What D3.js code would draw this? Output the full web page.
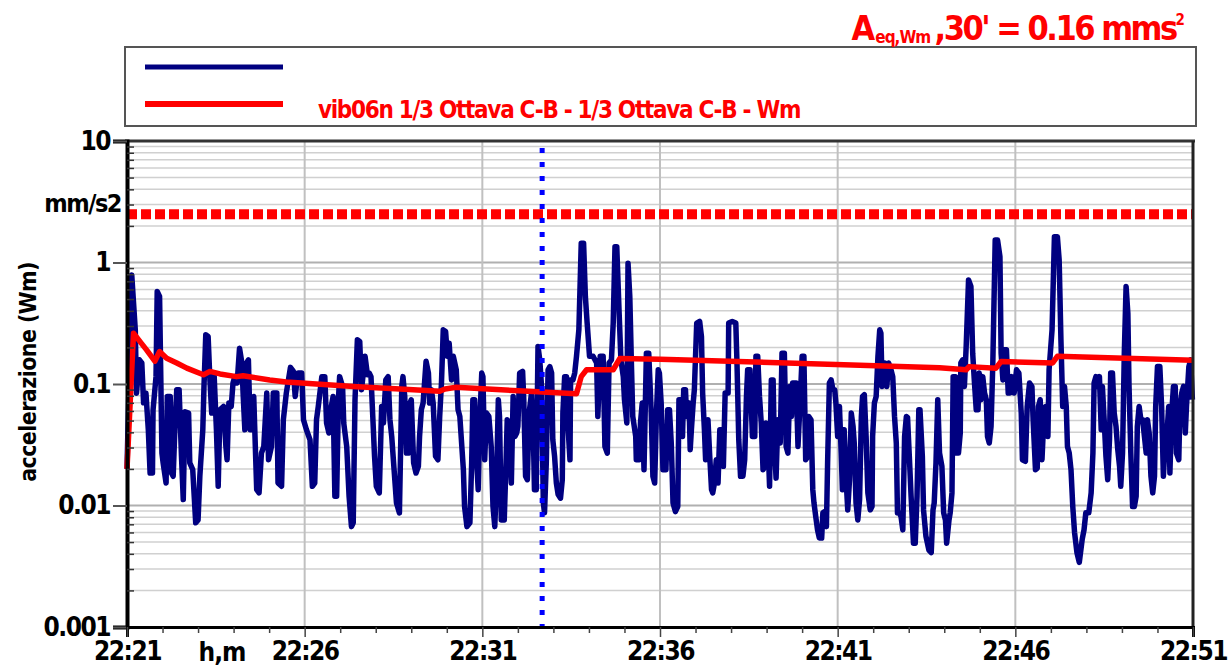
<!DOCTYPE html>
<html><head><meta charset="utf-8">
<script src="https://cdn.jsdelivr.net/npm/d3@7"></script>
<style>
body{margin:0;background:#fff}
svg{display:block}
text{font-family:"Liberation Sans Narrow","DejaVu Sans Condensed","Open Sans",sans-serif}
</style>
</head><body>
<svg id="chart" width="1228" height="670"></svg>
<script>
// ---- data ----
const startLabel = "22:21";
const durationSec = 1800;
const xTickSeconds = [0, 300, 600, 900, 1200, 1500, 1800];
const xTickLabels = ["22:21", "22:26", "22:31", "22:36", "22:41", "22:46", "22:51"];
const yTickValues = [10, 1, 0.1, 0.01, 0.001];
const yTickLabels = ["10", "1", "0.1", "0.01", "0.001"];
const seriesNames = ["", "vib06n  1/3 Ottava C-B - 1/3 Ottava C-B - Wm"];
const limitValue = 2.5;
const markerSecond = 701;
const aeqValue = "0.16";

// blue: acceleration (Wm), [seconds after 22:21, mm/s2]
const accelSamples = [
[0,.020],[4,.131],[8,.79],[14,.279],[16,.084],[21,.158],[25,.149],[28,.070],[32,.084],[36,.042],[39,.0185],[43,.0185],[44,.061],[49,.115],[51,.577],[55,.525],[59,.027],[61,.0224],[66,.0153],[68,.079],[73,.079],[75,.0185],[78,.0174],[81,.0448],[84,.0897],[88,.0897],[92,.0254],[95,.0112],[98,.059],[104,.0576],[106,.0224],[111,.0197],[116,.0072],[120,.0076],[123,.0174],[128,.042],[130,.0955],[133,.254],[137,.246],[140,.108],[143,.0576],[147,.123],[151,.042],[154,.0144],[157,.0614],[163,.0654],[167,.0306],[169,.0238],[172,.0697],[176,.0654],[179,.102],[182,.115],[186,.102],[190,.197],[194,.149],[196,.0842],[199,.042],[202,.149],[205,.158],[208,.042],[210,.042],[214,.079],[219,.0135],[223,.0127],[227,.027],[231,.0306],[236,.0842],[239,.0238],[244,.0306],[247,.0842],[253,.0842],[255,.0153],[261,.0144],[264,.0508],[269,.0842],[276,.137],[281,.127],[284,.079],[286,.0955],[289,.123],[295,.123],[298,.0508],[303,.042],[309,.0348],[313,.0144],[317,.0153],[320,.0508],[323,.0654],[329,.115],[334,.115],[337,.0477],[341,.0395],[345,.0654],[348,.079],[351,.0119],[354,.0119],[357,.0742],[359,.115],[364,.0955],[366,.0477],[371,.0306],[375,.0119],[379,.0067],[382,.0072],[385,.0742],[389,.231],[393,.224],[396,.0897],[399,.123],[402,.169],[406,.119],[409,.123],[412,.115],[415,.0541],[418,.0254],[421,.0144],[426,.0127],[430,.0654],[433,.0477],[437,.108],[441,.115],[444,.0508],[447,.037],[451,.0197],[455,.0105],[460,.0087],
[464,.0955],[466,.115],[469,.079],[472,.027],[475,.027],[478,.0697],[480,.0742],[484,.0224],[488,.0185],[492,.021],[494,.037],[497,.0614],[500,.0697],[505,.154],[509,.123],[511,.0697],[514,.0897],[517,.0697],[521,.0254],[525,.0238],[528,.0541],[531,.102],[534,.279],[538,.27],[541,.169],[544,.217],[548,.108],[551,.169],[556,.131],[559,.0614],[562,.0541],[568,.0197],[570,.0098],[574,.0067],[579,.0072],[582,.0224],[584,.0742],[587,.0742],[590,.0254],[593,.0135],[596,.0541],[599,.123],[601,.115],[604,.0238],[607,.0576],[611,.0541],[615,.0306],[618,.0098],[621,.0067],[624,.0163],[627,.0742],[629,.0541],[632,.0076],[637,.0076],[640,.0224],[642,.0508],[645,.0477],[649,.0153],[652,.079],[655,.037],[658,.0395],[660,.0448],[663,.123],[668,.127],[670,.0742],[673,.0174],[676,.0163],[679,.0576],[683,.0842],[686,.042],[688,.0135],[691,.0135],[694,.204],[697,.158],[700,.0955],[703,.0105],[705,.0087],[708,.0224],[711,.131],[714,.139],[717,.123],[719,.0348],[722,.0254],[725,.0153],[728,.0123],[732,.0115],[735,.0163],[736,.0576],[739,.115],[742,.115],[745,.042],[748,.0238],[749,.108],[753,.108],[756,.123],[759,.169],[763,.279],[767,1.44],[771,1.44],[774,.525],[777,.317],[781,.169],[787,.169],[793,.149],[795,.0541],[799,.169],[804,.169],[807,.0306],[811,.027],[814,.149],[818,.158],[821,.317],[824,1.35],[827,1.35],[831,.383],[834,.158],[838,.115],[840,.0742],[844,.0477],[846,.986],[849,.525],[852,.131],[854,.0541],[859,.037],[860,.0238],[865,.0238],[867,.0477],[870,.0697],[873,.0197],[877,.179],[881,.179],[885,.0614],[888,.0174],[891,.0153],[894,.0576],[897,.131],[899,.123],[902,.0697],[905,.0197],[910,.0197],[913,.0614],
[916,.0614],[919,.0327],[922,.0105],[926,.0089],[930,.0098],[932,.0742],[936,.0742],[938,.037],[940,.0897],[943,.0897],[945,.0541],[949,.0697],[951,.0288],[953,.042],[956,.0697],[958,.0897],[962,.317],[967,.327],[970,.246],[972,.0842],[975,.042],[977,.0238],[981,.0508],[984,.0254],[987,.0135],[989,.0127],[992,.0153],[995,.0238],[998,.0153],[1001,.042],[1005,.042],[1007,.021],[1010,.0842],[1015,.0842],[1016,.317],[1022,.327],[1028,.317],[1030,.149],[1033,.0348],[1036,.0174],[1040,.0174],[1043,.0238],[1046,.079],[1048,.131],[1052,.131],[1056,.037],[1060,.037],[1062,.169],[1065,.169],[1068,.079],[1071,.0477],[1074,.0197],[1077,.021],[1079,.0477],[1082,.037],[1085,.0144],[1088,.108],[1091,.108],[1093,.0327],[1096,.0168],[1099,.0508],[1103,.0327],[1106,.179],[1110,.179],[1113,.0306],[1116,.027],[1119,.0955],[1122,.0541],[1124,.102],[1130,.102],[1133,.0306],[1137,.079],[1140,.169],[1143,.169],[1146,.0238],[1148,.0246],[1151,.0541],[1155,.0508],[1158,.0135],[1160,.0105],[1163,.0081],[1166,.0063],[1169,.0054],[1173,.0054],[1175,.0087],[1178,.0089],[1181,.0067],[1183,.0224],[1186,.102],[1189,.108],[1192,.0897],[1195,.0897],[1197,.0697],[1200,.037],[1203,.0654],[1206,.027],[1208,.0135],[1210,.042],[1211,.042],[1214,.0174],[1217,.0092],[1220,.0163],[1223,.0576],[1226,.0448],[1228,.0327],[1231,.0105],[1234,.0076],[1237,.0112],[1240,.0541],[1242,.079],[1245,.0816],[1248,.037],[1251,.0127],[1255,.0092],[1258,.0098],[1259,.037],[1262,.0697],[1265,.079],[1268,.169],[1271,.279],[1273,.262],[1275,.0955],[1277,.149],[1280,.149],[1283,.0955],[1286,.149],[1290,.131],[1293,.115],[1296,.0541],[1299,.0327],[1301,.0087],[1304,.0087],[1307,.0081],[1310,.0063],[1313,.037],[1316,.0541],[1318,.053],[1321,.0254],[1324,.0119],[1328,.0049],[1331,.0049],[1334,.0119],[1337,.0614],[1339,.0614],[1343,.0254],[1345,.0092],[1349,.0056],[1354,.0043],[1358,.0041],[1361,.0092],[1363,.0105],[1366,.0224],[1369,.0742],
[1372,.027],[1376,.021],[1379,.0087],[1382,.0076],[1384,.0049],[1388,.0076],[1390,.0087],[1393,.0127],[1395,.115],[1399,.115],[1401,.027],[1404,.027],[1407,.0395],[1408,.149],[1411,.158],[1414,.0955],[1417,.204],[1421,.719],[1425,.634],[1428,.179],[1431,.102],[1434,.0614],[1437,.0614],[1439,.123],[1442,.0742],[1445,.115],[1448,.0842],[1451,.0742],[1453,.037],[1456,.0327],[1459,.0448],[1462,.149],[1466,1.53],[1470,1.53],[1474,1.12],[1476,.179],[1479,.108],[1481,.191],[1485,.191],[1488,.0842],[1491,.0842],[1494,.115],[1498,.0842],[1502,.131],[1506,.123],[1510,.0576],[1512,.0238],[1517,.0231],[1520,.0654],[1524,.102],[1528,.0955],[1530,.0508],[1534,.0197],[1537,.0203],[1539,.0654],[1542,.0742],[1545,.0238],[1547,.0395],[1551,.0654],[1555,.037],[1557,.131],[1562,.279],[1566,1.63],[1571,1.63],[1574,1.05],[1577,.231],[1580,.0654],[1583,.0955],[1586,.0654],[1588,.0306],[1591,.027],[1594,.0197],[1597,.0098],[1600,.006],[1604,.0041],[1608,.0034],[1613,.0053],[1616,.0063],[1619,.0087],[1624,.0087],[1628,.0127],[1631,.027],[1633,.102],[1636,.115],[1639,.0955],[1642,.115],[1645,.042],[1647,.0955],[1650,.0508],[1653,.0254],[1656,.0163],[1659,.0348],[1661,.123],[1664,.123],[1667,.0576],[1670,.0448],[1673,.0288],[1676,.021],[1678,.0144],[1681,.027],[1684,.179],[1687,.634],[1690,.383],[1692,.0955],[1695,.027],[1698,.0098],[1701,.0098],[1704,.0119],[1706,.0448],[1709,.0654],[1712,.0508],[1715,.0508],[1718,.037],[1721,.027],[1723,.0508],[1726,.0395],[1729,.0174],[1732,.0127],[1735,.0174],[1737,.0654],[1740,.139],[1744,.139],[1747,.0654],[1750,.0174],[1753,.0327],[1755,.0327],[1759,.0654],[1761,.0185],[1764,.0576],[1767,.0955],[1770,.0955],[1772,.027],[1776,.0238],[1778,.0654],[1781,.0842],[1784,.0955],[1787,.0395],[1789,.0654],[1793,.139],[1796,.158],[1799,.0742]
];

// red: running equivalent level, [seconds after 22:21, mm/s2]
const aeqSamples = [
[0,.020],[11,.262],[22,.223],[33,.191],[47,.154],[55,.185],[67,.163],[84,.149],[101,.135],[129,.119],[140,.127],[157,.121],[185,.115],[196,.117],[241,.108],[269,.104],[326,.0995],[382,.0955],[461,.091],[528,.087],[537,.091],[556,.094],[669,.0875],[759,.083],[767,.115],[776,.131],[821,.131],[832,.162],[900,.16],[1197,.145],[1372,.136],[1417,.131],[1422,.139],[1467,.135],[1476,.153],[1563,.149],[1571,.169],[1800,.157]
];

// ---- chart ----
const svg = d3.select("#chart");
const L = 127, R = 1193, T = 141, B = 627;
const x = d3.scaleLinear().domain([0, durationSec]).range([L, R]);
const y = d3.scaleLog().domain([0.001, 10]).range([B, T]);

// minor log values
const minorVals = [];
[0.001, 0.01, 0.1, 1].forEach(d => { for (let k = 2; k <= 9; k++) minorVals.push(+(d * k).toPrecision(3)); });

// grid
const grid = svg.append("g");
grid.selectAll("line.minor").data(minorVals).join("line")
  .attr("x1", L).attr("x2", R).attr("y1", d => y(d)).attr("y2", d => y(d))
  .attr("stroke", "#d0d0d0").attr("stroke-width", 1.5);
grid.selectAll("line.major").data(yTickValues).join("line")
  .attr("x1", L).attr("x2", R).attr("y1", d => y(d)).attr("y2", d => y(d))
  .attr("stroke", "#b0b0b0").attr("stroke-width", 2);
grid.selectAll("line.v").data(xTickSeconds.slice(1, -1)).join("line")
  .attr("x1", d => x(d)).attr("x2", d => x(d)).attr("y1", T).attr("y2", B)
  .attr("stroke", "#c0c0c0").attr("stroke-width", 2);

// series
const line = d3.line().x(d => x(d[0])).y(d => y(d[1]));
svg.append("path").datum(accelSamples).attr("d", line)
  .attr("fill", "none").attr("stroke", "#000080").attr("stroke-width", 5.5)
  .attr("stroke-linejoin", "round");
svg.append("path").datum(aeqSamples).attr("d", line)
  .attr("fill", "none").attr("stroke", "#ff0000").attr("stroke-width", 5.5)
  .attr("stroke-linejoin", "round");

// limit dashed line
svg.append("line").attr("x1", L).attr("x2", R).attr("y1", y(limitValue)).attr("y2", y(limitValue))
  .attr("stroke", "#ff0000").attr("stroke-width", 10).attr("stroke-dasharray", "10,4");

// marker dotted vertical
svg.append("line").attr("x1", x(markerSecond)).attr("x2", x(markerSecond)).attr("y1", T + 7).attr("y2", B)
  .attr("stroke", "#0000ff").attr("stroke-width", 5).attr("stroke-dasharray", "5,9");

// frame
svg.append("line").attr("x1", L - 2).attr("x2", R + 2).attr("y1", T).attr("y2", T).attr("stroke", "#333").attr("stroke-width", 3);
svg.append("line").attr("x1", R).attr("x2", R).attr("y1", T).attr("y2", B).attr("stroke", "#222").attr("stroke-width", 3);

// y axis
const yAxis = d3.axisLeft(y).tickValues(yTickValues).tickFormat((d, i) => yTickLabels[i]).tickSize(14).tickPadding(3);
const gy = svg.append("g").attr("transform", `translate(${L},0)`).call(yAxis);
gy.select(".domain").attr("stroke", "#000").attr("stroke-width", 4);
gy.selectAll(".tick line").attr("stroke", "#555").attr("stroke-width", 2);
gy.selectAll(".tick text").attr("font-size", 26).attr("font-weight", "bold").attr("fill", "#000").attr("letter-spacing", -1.5);
const yMinor = d3.axisRight(y).tickValues(minorVals).tickFormat("").tickSize(7);
const gym = svg.append("g").attr("transform", `translate(${L},0)`).call(yMinor);
gym.select(".domain").remove();
gym.selectAll(".tick line").attr("stroke", "#333").attr("stroke-width", 1.5);

// x axis
const xAxis = d3.axisBottom(x).tickValues(xTickSeconds).tickFormat((d, i) => xTickLabels[i]).tickSize(10).tickPadding(5);
const gx = svg.append("g").attr("transform", `translate(0,${B})`).call(xAxis);
gx.select(".domain").attr("stroke", "#000").attr("stroke-width", 3);
gx.selectAll(".tick line").attr("stroke", "#444").attr("stroke-width", 1.5);
gx.selectAll(".tick text").attr("font-size", 26).attr("font-weight", "bold").attr("fill", "#000").attr("letter-spacing", -1.5);
const minuteTicks = d3.range(0, durationSec + 1, 60).filter(d => d % 300 !== 0);
const gxm = svg.append("g").attr("transform", `translate(0,${B})`)
  .call(d3.axisBottom(x).tickValues(minuteTicks).tickFormat("").tickSize(6));
gxm.select(".domain").remove();
gxm.selectAll(".tick line").attr("stroke", "#444").attr("stroke-width", 1.5);

svg.append("text").attr("x", 222).attr("y", 661).attr("text-anchor", "middle")
  .attr("font-size", 26).attr("font-weight", "bold").attr("letter-spacing", -1).text("h,m");
svg.append("text").attr("x", 121).attr("y", 212).attr("text-anchor", "end")
  .attr("font-size", 25).attr("font-weight", "bold").attr("letter-spacing", -1.5).text("mm/s2");
svg.append("text").attr("transform", "translate(36,372) rotate(-90)").attr("text-anchor", "middle")
  .attr("font-size", 23).attr("font-weight", "bold").attr("letter-spacing", -0.6).text("accelerazione (Wm)");

// legend
const lg = svg.append("g");
lg.append("rect").attr("x", 125).attr("y", 47).attr("width", 1071).attr("height", 79)
  .attr("fill", "#fff").attr("stroke", "#555").attr("stroke-width", 2);
lg.append("line").attr("x1", 145).attr("x2", 283).attr("y1", 67).attr("y2", 67).attr("stroke", "#000080").attr("stroke-width", 5);
lg.append("line").attr("x1", 145).attr("x2", 283).attr("y1", 104).attr("y2", 104).attr("stroke", "#ff0000").attr("stroke-width", 6);
lg.append("text").attr("x", 318).attr("y", 118).attr("fill", "#ff0000").attr("font-size", 24)
  .attr("font-weight", "bold").attr("letter-spacing", -1.3).text(seriesNames[1]);

// title
const tt = svg.append("text").attr("x", 1185).attr("y", 40).attr("text-anchor", "end").attr("fill", "#ff0000").attr("font-weight", "bold");
tt.append("tspan").attr("font-size", 34).text("A");
tt.append("tspan").attr("font-size", 17).attr("dy", 3).attr("letter-spacing", -1).text("eq,Wm ");
tt.append("tspan").attr("font-size", 34).attr("dy", -3).attr("letter-spacing", -2.5).text(",30' = " + aeqValue + " mms");
tt.append("tspan").attr("font-size", 15).attr("dy", -15).text("2");
</script>
</body></html>
